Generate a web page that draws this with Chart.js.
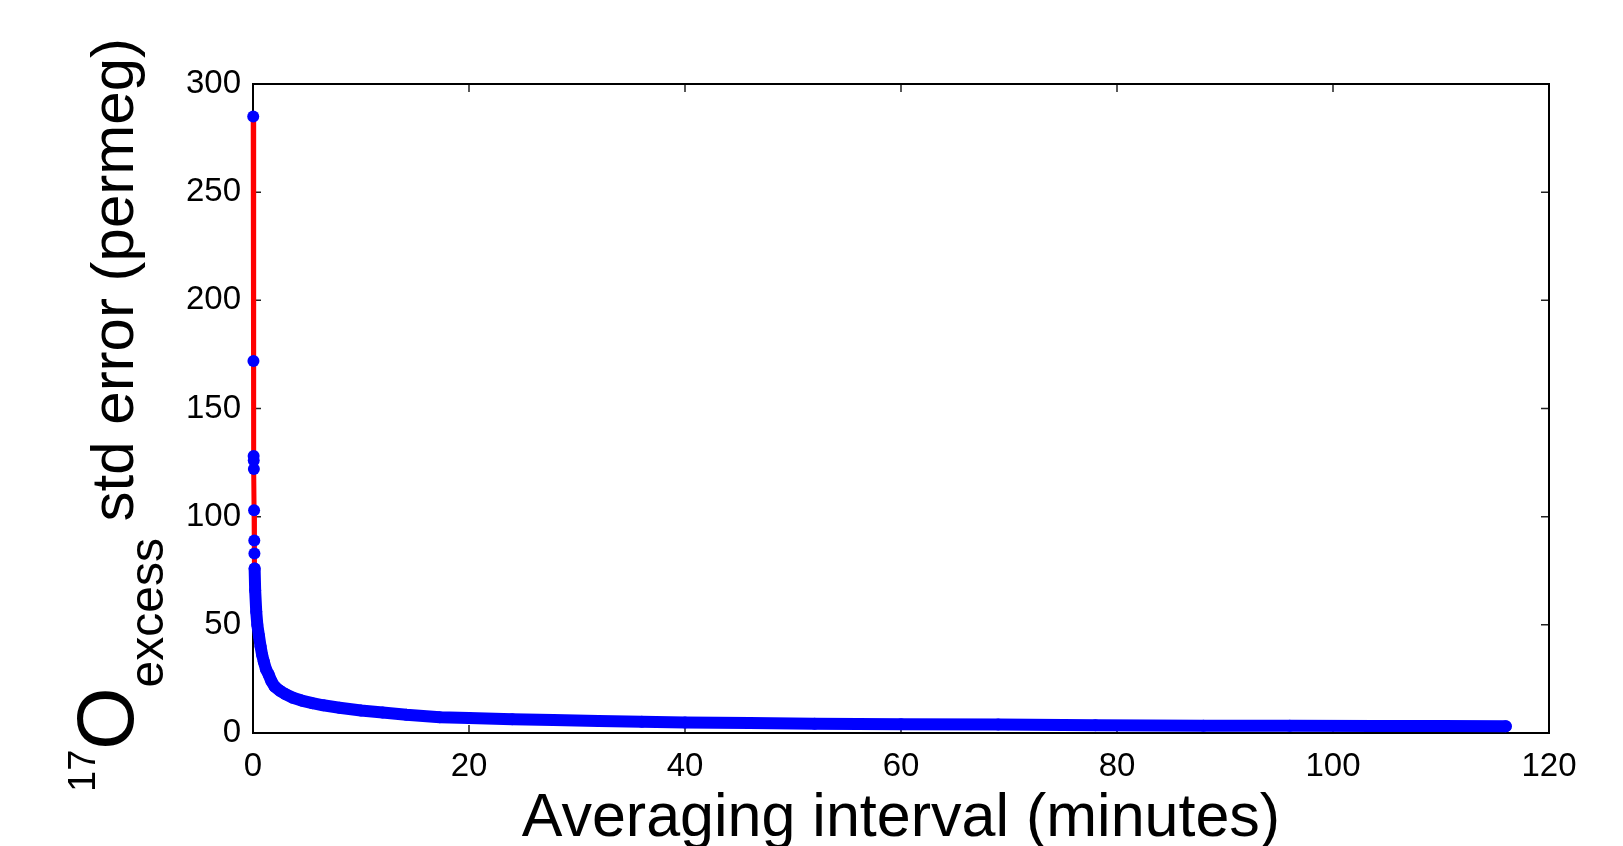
<!DOCTYPE html>
<html>
<head>
<meta charset="utf-8">
<script src="https://cdn.jsdelivr.net/npm/chart.js@4.4.1/dist/chart.umd.min.js"></script>
<style>
  html, body { margin: 0; padding: 0; background: #fff; }
  canvas { display: block; }
</style>
</head>
<body>
<canvas id="errChart" width="1623" height="846"></canvas>
<script>
// 17O-excess std error vs averaging interval

// sparse points right at the start (red line + blue dots)
const sparseInterval = [0.02, 0.04, 0.06, 0.07, 0.08, 0.10, 0.12, 0.13];
const sparseError    = [285, 172, 128, 126, 122, 103, 89, 83];

// dense part of the curve (markers merge into a thick blue band)
const denseInterval = [0.15, 0.2, 0.3, 0.4, 0.55, 0.7, 0.85, 1.0, 1.2, 1.45, 1.7, 2.0, 2.5, 3.0, 3.7, 4.5, 5.5, 6.5, 8, 10, 12, 14.2, 17.3, 20, 24, 27.8, 32, 36, 40, 46, 52, 60, 69, 78, 88, 96, 104, 110, 116];
const denseError    = [76, 66, 56, 50, 45, 40, 36, 33, 29.5, 27, 24, 21.5, 19.5, 18, 16.3, 15, 13.8, 12.8, 11.7, 10.4, 9.5, 8.4, 7.3, 6.9, 6.4, 6.0, 5.6, 5.2, 4.9, 4.6, 4.3, 4.1, 3.9, 3.6, 3.4, 3.3, 3.2, 3.2, 3.1];

const xTickValues = [0, 20, 40, 60, 80, 100, 120];
const yTickValues = [0, 50, 100, 150, 200, 250, 300];

const FONT = "'Liberation Sans', Arial, Helvetica, sans-serif";

const toPoints = (xs, ys) => xs.map((x, i) => ({ x: x, y: ys[i] }));
const allInterval = sparseInterval.concat(denseInterval);
const allError = sparseError.concat(denseError);

// Box around plot + inward ticks on all four sides (matlab style)
const boxPlugin = {
    id: 'boxPlugin',
    beforeDatasetsDraw(chart) {
        const { ctx, chartArea: a, scales } = chart;
        const len = 8;
        ctx.save();
        ctx.strokeStyle = '#222';
        ctx.lineWidth = 1.5;
        ctx.beginPath();
        xTickValues.forEach(v => {
            const px = scales.x.getPixelForValue(v);
            ctx.moveTo(px, a.bottom); ctx.lineTo(px, a.bottom - len);
            ctx.moveTo(px, a.top); ctx.lineTo(px, a.top + len);
        });
        yTickValues.forEach(v => {
            const py = scales.y.getPixelForValue(v);
            ctx.moveTo(a.left, py); ctx.lineTo(a.left + len, py);
            ctx.moveTo(a.right, py); ctx.lineTo(a.right - len, py);
        });
        ctx.stroke();
        ctx.strokeStyle = '#000';
        ctx.lineWidth = 2;
        ctx.strokeRect(a.left, a.top, a.right - a.left, a.bottom - a.top);
        ctx.restore();
    }
};

// Axis titles (y title has super/subscripts)
const titlePlugin = {
    id: 'titlePlugin',
    afterDraw(chart) {
        const { ctx, chartArea: a } = chart;
        ctx.save();
        ctx.fillStyle = '#000';
        ctx.textBaseline = 'alphabetic';

        // x title
        ctx.font = '61px ' + FONT;
        ctx.textAlign = 'center';
        ctx.fillText('Averaging interval (minutes)', (a.left + a.right) / 2, 836);

        // y title, rotated, reads bottom to top
        ctx.translate(133, 792);
        ctx.rotate(-Math.PI / 2);
        ctx.textAlign = 'left';
        let pos = 0;
        ctx.font = '38px ' + FONT;
        ctx.fillText('17', pos, -38);
        pos += ctx.measureText('17').width;
        ctx.font = '80px ' + FONT;
        ctx.fillText('O', pos, 0);
        pos += ctx.measureText('O').width;
        ctx.font = '48px ' + FONT;
        ctx.fillText('excess', pos, 30);
        pos += ctx.measureText('excess').width;
        ctx.font = '60px ' + FONT;
        ctx.fillText(' std error (permeg)', pos, 0);
        ctx.restore();
    }
};

new Chart(document.getElementById('errChart'), {
    type: 'scatter',
    data: {
        datasets: [
            {
                // whole series: red connecting line with blue dots
                data: toPoints(allInterval, allError),
                showLine: true,
                borderColor: '#ff0000',
                borderWidth: 5,
                tension: 0,
                pointRadius: 6,
                pointBackgroundColor: '#0000ff',
                pointBorderWidth: 0,
                clip: false,
                order: 2
            },
            {
                // dense markers look like a solid band
                data: toPoints(denseInterval, denseError),
                showLine: true,
                borderColor: '#0000ff',
                borderWidth: 12,
                borderCapStyle: 'round',
                borderJoinStyle: 'round',
                tension: 0,
                pointRadius: 0,
                clip: false,
                order: 1
            }
        ]
    },
    options: {
        responsive: false,
        animation: false,
        layout: { padding: { top: 84, right: 74, left: 0, bottom: 0 } },
        plugins: { legend: { display: false }, tooltip: { enabled: false } },
        scales: {
            x: {
                type: 'linear',
                min: 0, max: 120,
                afterFit: s => { s.height = 113; },
                afterBuildTicks: s => { s.ticks = xTickValues.map(v => ({ value: v })); },
                grid: { display: false, drawTicks: false },
                border: { display: false },
                ticks: { color: '#000', font: { family: FONT, size: 33 }, padding: 14, autoSkip: false, maxRotation: 0 }
            },
            y: {
                type: 'linear',
                min: 0, max: 300,
                afterFit: s => { s.width = 253; },
                afterBuildTicks: s => { s.ticks = yTickValues.map(v => ({ value: v })); },
                grid: { display: false, drawTicks: false },
                border: { display: false },
                ticks: { color: '#000', font: { family: FONT, size: 33 }, padding: 12, autoSkip: false }
            }
        }
    },
    plugins: [boxPlugin, titlePlugin]
});
</script>
</body>
</html>
